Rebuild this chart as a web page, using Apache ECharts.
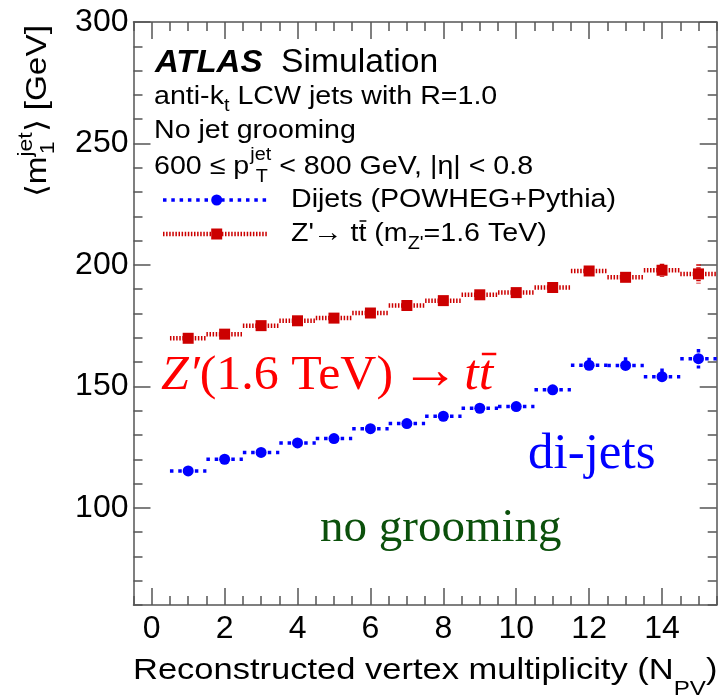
<!DOCTYPE html>
<html>
<head>
<meta charset="utf-8">
<script src="https://cdn.jsdelivr.net/npm/echarts@6/dist/echarts.min.js"></script>
<style>
  html, body { margin: 0; padding: 0; background: #fff; }
  #chart { width: 719px; height: 696px; }
</style>
</head>
<body>
<div id="chart"></div>
<script>
// Number of reconstructed primary vertices (bin centres, each bin is 1 wide)
const nPV = [1, 2, 3, 4, 5, 6, 7, 8, 9, 10, 11, 12, 13, 14, 15];
const binHalfWidth = 0.5;

// Mean leading-jet mass [GeV], dijet sample
const dijetMass = [115.2, 120.0, 122.8, 126.7, 128.5, 132.6, 134.7, 137.7, 141.0, 141.7, 148.6, 158.7, 158.6, 154.0, 161.4];
const dijetErr  = [0.5, 0.5, 0.6, 0.6, 0.7, 0.8, 0.8, 0.9, 1.0, 1.1, 1.5, 3.1, 3.4, 3.4, 4.0];

// Mean leading-jet mass [GeV], Z' -> ttbar sample
const zprimeMass = [169.8, 171.5, 175.0, 177.0, 178.1, 180.2, 183.3, 185.3, 187.7, 188.6, 190.7, 197.5, 194.9, 197.8, 196.3];
const zprimeErr  = [0.4, 0.4, 0.4, 0.5, 0.5, 0.6, 0.6, 0.7, 0.8, 0.9, 1.0, 1.3, 1.6, 2.7, 4.0];

// Axis ticks
const xTickLabels = [0, 2, 4, 6, 8, 10, 12, 14];
const xMinorTicks = [-0.5, 0, 0.5, 1, 1.5, 2, 2.5, 3, 3.5, 4, 4.5, 5, 5.5, 6, 6.5, 7, 7.5, 8, 8.5, 9, 9.5, 10, 10.5, 11, 11.5, 12, 12.5, 13, 13.5, 14, 14.5, 15, 15.5];
const yTickLabels = [100, 150, 200, 250, 300];
const yMinorTicks = [60, 70, 80, 90, 100, 110, 120, 130, 140, 150, 160, 170, 180, 190, 200, 210, 220, 230, 240, 250, 260, 270, 280, 290, 300];

const X_MIN = -0.5, X_MAX = 15.5, Y_MIN = 60, Y_MAX = 300;

const BLUE = '#0000ff';
const RED = '#cc0000';
const AXIS = '#555555';
const SANS = '"Liberation Sans", Arial, Helvetica, sans-serif';
const SERIF = '"Liberation Serif", "Times New Roman", serif';

const dijetStyle  = { color: BLUE, width: 3.5, dash: [3.5, 4.8] };
const zprimeStyle = { color: RED,  width: 4.5, dash: [1.5, 1.6] };

// ---------- text layout helpers ----------
const measureCtx = document.createElement('canvas').getContext('2d');
function fontOf(p) {
  return (p.italic ? 'italic ' : 'normal ') + (p.bold ? 'bold ' : 'normal ') + p.size + 'px ' + (p.family || SANS);
}
function widthOf(p) {
  measureCtx.font = fontOf(p);
  return measureCtx.measureText(p.t).width;
}
// Lays out text pieces on a common baseline (local y = 0).
function textLine(x, baseline, parts, opts) {
  opts = opts || {};
  let cx = 0;
  const children = [];
  for (const p of parts) {
    const w = widthOf(p);
    const px = (p.at != null ? p.at : cx) + (p.dx || 0);
    const by = p.dy || 0;
    children.push({
      type: 'text',
      x: px,
      y: by - 0.33 * p.size,
      style: {
        text: p.t,
        fill: p.color || opts.color || '#000',
        fontSize: p.size,
        fontFamily: p.family || SANS,
        fontWeight: p.bold ? 'bold' : 'normal',
        fontStyle: p.italic ? 'italic' : 'normal',
        textAlign: 'left',
        textVerticalAlign: 'middle'
      }
    });
    if (p.over) {
      children.push({
        type: 'line',
        shape: { x1: px + (p.overPad || 0), y1: by - p.over, x2: px + w + (p.overExt || 0), y2: by - p.over },
        style: { stroke: p.color || opts.color || '#000', lineWidth: p.overWidth || 2 }
      });
    }
    if (!p.noAdvance) cx = Math.max(cx, px + w);
  }
  return {
    type: 'group', x: x, y: baseline,
    scaleX: opts.sx || 1, rotation: opts.rot || 0,
    children: children, silent: true
  };
}

// ---------- series ----------
function errorBars(name, mass, err, st) {
  return {
    type: 'custom',
    name: name,
    xAxisIndex: 0, yAxisIndex: 0,
    z: 3,
    silent: true,
    data: nPV.map((x, i) => [x, mass[i], err[i]]),
    renderItem: function (params, api) {
      const x = api.value(0), y = api.value(1), e = api.value(2);
      const l = api.coord([x - binHalfWidth, y]);
      const r = api.coord([x + binHalfWidth, y]);
      const t = api.coord([x, y + e]);
      const b = api.coord([x, y - e]);
      const style = { stroke: st.color, lineWidth: st.width, lineDash: st.dash, fill: null };
      return {
        type: 'group',
        children: [
          { type: 'line', shape: { x1: l[0], y1: l[1], x2: r[0], y2: r[1] }, style: style },
          { type: 'line', shape: { x1: t[0], y1: t[1], x2: b[0], y2: b[1] }, style: style }
        ]
      };
    }
  };
}
function markers(name, mass, symbol, color) {
  return {
    type: 'scatter', name: name,
    xAxisIndex: 0, yAxisIndex: 0, z: 4, silent: true,
    symbol: symbol, symbolSize: 11,
    itemStyle: { color: color, opacity: 1 },
    data: nPV.map((x, i) => [x, mass[i]])
  };
}

// ---------- axes ----------
const lineStyle = { color: AXIS, width: 1.5 };
const tickFont = { fontSize: 32, fontFamily: SANS, color: '#000' };
function xAxisDef(position, ticks, len, main, labels) {
  return {
    type: 'value', position: position, min: X_MIN, max: X_MAX,
    axisLine: { show: main, onZero: false, lineStyle: lineStyle },
    axisTick: { show: true, inside: true, length: len, customValues: ticks, lineStyle: lineStyle },
    axisLabel: labels ? Object.assign({ show: true, customValues: labels, margin: 8 }, tickFont) : { show: false },
    splitLine: { show: false }, minorTick: { show: false }
  };
}
function yAxisDef(position, ticks, len, main, labels) {
  return {
    type: 'value', position: position, min: Y_MIN, max: Y_MAX,
    axisLine: { show: main, onZero: false, lineStyle: lineStyle },
    axisTick: { show: true, inside: true, length: len, customValues: ticks, lineStyle: lineStyle },
    axisLabel: labels ? Object.assign({ show: true, customValues: labels, margin: 5 }, tickFont) : { show: false },
    splitLine: { show: false }, minorTick: { show: false }
  };
}

// ---------- annotations ----------
const S = 26, SS = 18, SX = 1.1;
const graphics = [];
graphics.push(textLine(155, 74, [
  { t: 'ATLAS', size: 32, bold: true, italic: true }
], { sx: 1.03 }));
graphics.push(textLine(281, 74, [
  { t: 'Simulation', size: 33 }
], { sx: 1.02 }));
graphics.push(textLine(154, 105, [
  { t: 'anti-k', size: S },
  { t: 't', size: SS, dy: 7 },
  { t: ' LCW jets with R=1.0', size: S }
], { sx: SX }));
graphics.push(textLine(154, 139, [
  { t: 'No jet grooming', size: S }
], { sx: SX }));
(function () {
  const lead = { t: '600 \u2264 p', size: S };
  const jetW = widthOf({ t: 'jet', size: SS });
  const x0 = widthOf(lead);
  graphics.push(textLine(154, 175, [
    lead,
    { t: 'jet', size: SS, dy: -14, at: x0 + 1, noAdvance: true },
    { t: 'T', size: SS, dy: 8, at: x0 + 6, noAdvance: true },
    { t: ' < 800 GeV, |\u03b7| < 0.8', size: S, at: x0 + 1 + jetW }
  ], { sx: SX }));
})();

// legend
const legY1 = 200, legY2 = 234, legX1 = 163, legX2 = 267, legMid = 216.7;
graphics.push({ type: 'line', shape: { x1: legX1, y1: legY1, x2: legX2, y2: legY1 },
  style: { stroke: BLUE, lineWidth: dijetStyle.width, lineDash: dijetStyle.dash } });
graphics.push({ type: 'circle', shape: { cx: legMid, cy: legY1, r: 5.5 }, style: { fill: BLUE } });
graphics.push({ type: 'line', shape: { x1: legX1, y1: legY2, x2: legX2, y2: legY2 },
  style: { stroke: RED, lineWidth: zprimeStyle.width, lineDash: zprimeStyle.dash } });
graphics.push({ type: 'rect', shape: { x: legMid - 5.5, y: legY2 - 5.5, width: 11, height: 11 }, style: { fill: RED } });
graphics.push(textLine(291, 208, [
  { t: 'Dijets (POWHEG+Pythia)', size: S }
], { sx: SX }));
graphics.push(textLine(291, 242, [
  { t: "Z'", size: S },
  { t: '\u2192', size: 27, dx: -1 },
  { t: ' t', size: S },
  { t: 't', size: S, over: 21, overWidth: 1.5, overPad: 1 },
  { t: ' (m', size: S },
  { t: "Z'", size: SS, dy: 8 },
  { t: '=1.6 TeV)', size: S }
], { sx: SX }));

// in-plot labels
graphics.push(textLine(161, 392, [
  { t: 'Z\u2032', size: 48, family: SERIF, italic: true },
  { t: '(1.6 TeV)', size: 48, family: SERIF },
  { t: ' ', size: 30, family: SERIF },
  { t: '\u2192', size: 56, family: SERIF },
  { t: ' ', size: 20, family: SERIF },
  { t: 't', size: 50, family: SERIF, italic: true },
  { t: 't', size: 50, family: SERIF, italic: true, over: 38, overWidth: 2.5, overPad: 3, overExt: 3 }
], { color: '#ff0000', sx: 1.04 }));
graphics.push(textLine(528, 471, [
  { t: 'di-jets', size: 51, family: SERIF }
], { color: BLUE }));
graphics.push(textLine(320, 544, [
  { t: 'no grooming', size: 47, family: SERIF }
], { color: '#0b500b' }));

// axis titles
graphics.push(textLine(133, 681, [
  { t: 'Reconstructed vertex multiplicity (N', size: 30 },
  { t: 'PV', size: 21, dy: 15 },
  { t: ')', size: 30 }
], { sx: 1.15 }));
(function () {
  const mW = widthOf({ t: '\u27e8m', size: 29 });
  const jetW = widthOf({ t: 'jet', size: 20 });
  graphics.push(textLine(48, 197, [
    { t: '\u27e8m', size: 29 },
    { t: 'jet', size: 20, dy: -15, at: mW, noAdvance: true },
    { t: '1', size: 20, dy: 7, at: mW + 2, noAdvance: true },
    { t: '\u27e9 [GeV]', size: 29, at: mW + jetW }
  ], { sx: 1.15, rot: Math.PI / 2 }));
})();

const chart = echarts.init(document.getElementById('chart'), null, { renderer: 'canvas' });
chart.setOption({
  animation: false,
  backgroundColor: '#fff',
  grid: { left: 133.5, right: 2.3, top: 22, bottom: 91, containLabel: false },
  xAxis: [
    xAxisDef('bottom', xTickLabels, 17, true, xTickLabels),
    xAxisDef('bottom', xMinorTicks, 9, false, null),
    xAxisDef('top', xTickLabels, 17, true, null),
    xAxisDef('top', xMinorTicks, 9, false, null)
  ],
  yAxis: [
    yAxisDef('left', yTickLabels, 17, true, yTickLabels),
    yAxisDef('left', yMinorTicks, 9, false, null),
    yAxisDef('right', yTickLabels, 17, true, null),
    yAxisDef('right', yMinorTicks, 9, false, null)
  ],
  series: [
    errorBars('Dijets (POWHEG+Pythia)', dijetMass, dijetErr, dijetStyle),
    errorBars("Z'\u2192 tt\u0304 (mZ'=1.6 TeV)", zprimeMass, zprimeErr, zprimeStyle),
    markers('Dijets (POWHEG+Pythia)', dijetMass, 'circle', BLUE),
    markers("Z'\u2192 tt\u0304 (mZ'=1.6 TeV)", zprimeMass, 'rect', RED)
  ],
  graphic: { elements: graphics }
});
</script>
</body>
</html>
